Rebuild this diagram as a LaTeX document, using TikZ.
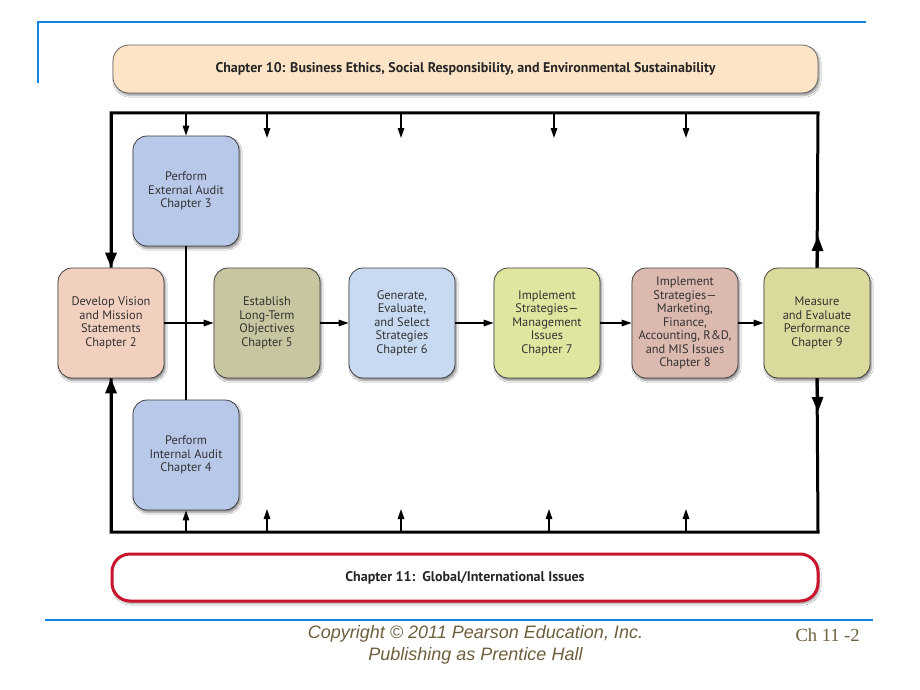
\documentclass[tikz,border=0pt]{standalone}
\usepackage{fontspec}
\usetikzlibrary{arrows.meta,shadows.blur}
\newfontfamily\boxfont{PT Sans}
\newfontfamily\footfont{Liberation Sans}
\newfontfamily\pagefont{Liberation Serif}
\definecolor{slideblue}{RGB}{14,132,226}
\definecolor{peach}{RGB}{253,228,198}
\definecolor{devfill}{RGB}{242,208,192}
\definecolor{auditfill}{RGB}{184,200,232}
\definecolor{estfill}{RGB}{200,198,160}
\definecolor{genfill}{RGB}{200,218,242}
\definecolor{imp7fill}{RGB}{224,230,160}
\definecolor{imp8fill}{RGB}{219,185,174}
\definecolor{measfill}{RGB}{218,218,156}
\definecolor{boxtext}{RGB}{50,50,50}
\definecolor{chred}{RGB}{200,20,45}
\definecolor{footcol}{RGB}{110,95,60}
\tikzset{
  stagebox/.style={draw=black!75, line width=0.8pt, rounded corners=14pt,
    minimum width=106pt, minimum height=110pt, align=center, text=boxtext,
    font=\boxfont\fontsize{12.4}{13.5}\selectfont, inner sep=1pt,
    blur shadow={shadow xshift=1.5pt, shadow yshift=-2.5pt, shadow blur steps=6, shadow opacity=45}},
  frameline/.style={line width=3pt, black},
  bighead/.style={-{Triangle[length=15pt,width=11pt]}, line width=3pt},
  thinline/.style={line width=1.5pt, black},
  smallarrow/.style={line width=1.5pt, -{Triangle[length=10pt,width=6.5pt]}},
  banner/.style={rounded corners=16pt, line width=0.8pt,
    blur shadow={shadow xshift=1.5pt, shadow yshift=-2.5pt, shadow blur steps=6, shadow opacity=40},
    font=\boxfont\fontsize{14}{16}\selectfont\bfseries, text=black!85},
}
\begin{document}
\begin{tikzpicture}[x=1pt,y=-1pt]
\useasboundingbox[fill=white] (0,0) rectangle (920,690);
% slide decorations
\coordinate (bl1) at (38,22); \coordinate (bl2) at (866,22); \coordinate (bl3) at (38,83);
\draw[slideblue, line width=2pt] (bl3) -- (bl1) -- (bl2);
\coordinate (fl1) at (45,620); \coordinate (fl2) at (873,620);
\draw[slideblue, line width=2pt] (fl1) -- (fl2);
% top & bottom boxes
\node[banner, draw=black!60, fill=peach, minimum width=705pt, minimum height=48pt] (ch10) at (465.5,69)
  {Chapter 10: Business Ethics, Social Responsibility, and Environmental Sustainability};
\node[banner, draw=chred, line width=3pt, fill=white, rounded corners=18pt, minimum width=706pt, minimum height=47pt] (ch11) at (465,577.5)
  {Chapter 11:\ \ Global/International Issues};
% stage boxes
\node[stagebox, fill=auditfill] (ext) at (186,191) {Perform\\External Audit\\Chapter 3};
\node[stagebox, fill=auditfill] (int) at (186,455) {Perform\\Internal Audit\\Chapter 4};
\node[stagebox, fill=devfill] (dev) at (111,323) {Develop Vision\\and Mission\\Statements\\Chapter 2};
\node[stagebox, fill=estfill] (est) at (267,323) {Establish\\Long-Term\\Objectives\\Chapter 5};
\node[stagebox, fill=genfill] (gen) at (402,323) {Generate,\\Evaluate,\\and Select\\Strategies\\Chapter 6};
\node[stagebox, fill=imp7fill] (imp7) at (547,323) {Implement\\Strategies—\\Management\\Issues\\Chapter 7};
\node[stagebox, fill=imp8fill] (imp8) at (685,323) {Implement\\Strategies—\\Marketing,\\Finance,\\Accounting, R\&D,\\and MIS Issues\\Chapter 8};
\node[stagebox, fill=measfill] (meas) at (817,323) {Measure\\and Evaluate\\Performance\\Chapter 9};
% frame
\coordinate (tl) at (111,113); \coordinate (tr) at (818,113);
\coordinate (br) at (818,532); \coordinate (bl) at (111,532);
\coordinate (rup) at (818,236); \coordinate (rdn) at (818,412);
\draw[frameline] (dev.north) -- (tl) -- (tr) -- (meas.north);
\draw[frameline] (dev.south) -- (bl) -- (br) -- (meas.south);
\draw[bighead] (tl) -- (dev.north);
\draw[bighead] (bl) -- (dev.south);
\draw[bighead] (meas.north) -- (rup);
\draw[bighead] (meas.south) -- (rdn);
% audit link
\draw[thinline] (ext.south) -- (int.north);
% horizontal flow
\draw[smallarrow] (dev.east) -- (est.west);
\draw[smallarrow] (est.east) -- (gen.west);
\draw[smallarrow] (gen.east) -- (imp7.west);
\draw[smallarrow] (imp7.east) -- (imp8.west);
\draw[smallarrow] (imp8.east) -- (meas.west);
% top arrows
\coordinate (t1) at (186,113);
\draw[smallarrow] (t1) -- (ext.north);
\foreach \x in {267,401,554,686} {
  \coordinate (ta\x) at (\x,113); \coordinate (tb\x) at (\x,138);
  \draw[smallarrow] (ta\x) -- (tb\x);
}
% bottom arrows
\coordinate (b1) at (186,532);
\draw[smallarrow] (b1) -- (int.south);
\foreach \x in {267,401,549,686} {
  \coordinate (ba\x) at (\x,532); \coordinate (bb\x) at (\x,509);
  \draw[smallarrow] (ba\x) -- (bb\x);
}
% footer
\node[font=\footfont\fontsize{18}{22}\selectfont\itshape, text=footcol, align=center] (copy) at (475.5,645)
  {Copyright \textcopyright{} 2011 Pearson Education, Inc.\\Publishing as Prentice Hall};
\node[font=\pagefont\fontsize{18.5}{20}\selectfont, text=footcol, anchor=west] (pg) at (792,635) {Ch 11 -2};
\end{tikzpicture}
\end{document}
